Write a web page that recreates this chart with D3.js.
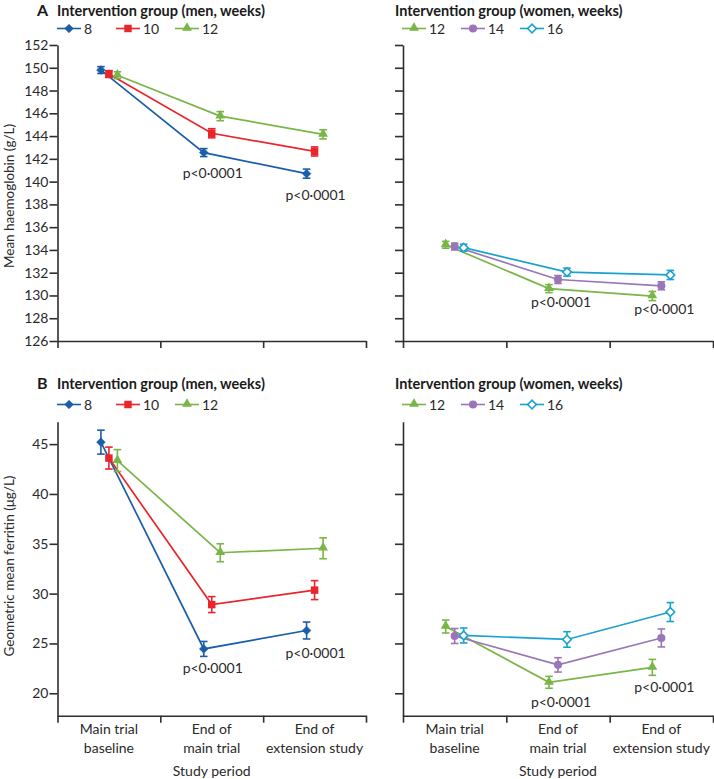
<!DOCTYPE html>
<html><head><meta charset="utf-8">
<script src="https://cdn.jsdelivr.net/npm/d3@7/dist/d3.min.js"></script>
<style>body{margin:0;background:#fff}svg{display:block}</style>
</head><body><svg id="c" width="714" height="779"></svg>
<script>
// ---------- DATA ----------
const categories = ["Main trial baseline", "End of main trial", "End of extension study"];
const categoryLines = [["Main trial", "baseline"], ["End of", "main trial"], ["End of", "extension study"]];
const menGroups = ["8", "10", "12"];
const womenGroups = ["12", "14", "16"];

// Mean haemoglobin (g/L)
const hbMen8 = [149.8, 142.55, 140.7];
const hbMen10 = [149.45, 144.25, 142.65];
const hbMen12 = [149.35, 145.75, 144.15];
const hbMen8Err = [0.3, 0.35, 0.4];
const hbMen10Err = [0.3, 0.4, 0.4];
const hbMen12Err = [0.3, 0.4, 0.4];
const hbWomen12 = [134.45, 130.6, 129.95];
const hbWomen14 = [134.3, 131.4, 130.85];
const hbWomen16 = [134.2, 132.05, 131.8];
const hbWomen12Err = [0.3, 0.35, 0.4];
const hbWomen14Err = [0.3, 0.35, 0.35];
const hbWomen16Err = [0.3, 0.35, 0.4];

// Geometric mean ferritin (µg/L)
const ferMen8 = [45.2, 24.45, 26.3];
const ferMen10 = [43.6, 28.9, 30.35];
const ferMen12 = [43.35, 34.1, 34.55];
const ferMen8Err = [1.2, 0.75, 0.85];
const ferMen10Err = [1.1, 0.8, 0.95];
const ferMen12Err = [1.1, 0.9, 1.05];
const ferWomen12 = [26.7, 21.1, 22.6];
const ferWomen14 = [25.75, 22.85, 25.55];
const ferWomen16 = [25.8, 25.4, 28.15];
const ferWomen12Err = [0.65, 0.6, 0.8];
const ferWomen14Err = [0.75, 0.72, 0.9];
const ferWomen16Err = [0.75, 0.78, 0.95];

const hbTicks = [126, 128, 130, 132, 134, 136, 138, 140, 142, 144, 146, 148, 150, 152];
const ferTicks = [20, 25, 30, 35, 40, 45];
const pLabel = "p<0·0001";

// ---------- STYLE / LAYOUT ----------
const FONT = "Lato, 'Liberation Sans', sans-serif";
const AX = "#2e2e2e";
const TXT = "#2a2a2a";
const C = { blue: "#1b5ea8", red: "#e8262b", green: "#7ab547", purple: "#9a76b8", cyan: "#1aa2cf" };
const men = [
  { name: menGroups[0], color: C.blue, sym: "diamond", dx: -8 },
  { name: menGroups[1], color: C.red, sym: "square", dx: 0 },
  { name: menGroups[2], color: C.green, sym: "triangle", dx: 8.5 }
];
const women = [
  { name: womenGroups[0], color: C.green, sym: "triangle", dx: -9 },
  { name: womenGroups[1], color: C.purple, sym: "circle", dx: 0 },
  { name: womenGroups[2], color: C.cyan, sym: "openDiamond", dx: 9 }
];
const cols = [{ x0: 57.5, x1: 366, titleX: 57, legX: 57, groups: men, title: "Intervention group (men, weeks)" },
              { x0: 403, x1: 713, titleX: 395, legX: 402, groups: women, title: "Intervention group (women, weeks)" }];
const rows = [
  { letter: "A", top: 45, bottom: 341, titleY: 15.5, legY: 28.5, domain: [126, 152], ticks: hbTicks,
    label: "Mean haemoglobin (g/L)", labelY: 196,
    data: [[hbMen8, hbMen10, hbMen12], [hbWomen12, hbWomen14, hbWomen16]],
    err: [[hbMen8Err, hbMen10Err, hbMen12Err], [hbWomen12Err, hbWomen14Err, hbWomen16Err]],
    pAnchor: [0, 0], pDy: [[25, 26], [18, 18]], catLabels: false },
  { letter: "B", top: 421.7, bottom: 715.7, titleY: 388.5, legY: 404.5, domain: [17.75, 47.25], ticks: ferTicks,
    label: "Geometric mean ferritin (μg/L)", labelY: 566,
    data: [[ferMen8, ferMen10, ferMen12], [ferWomen12, ferWomen14, ferWomen16]],
    err: [[ferMen8Err, ferMen10Err, ferMen12Err], [ferWomen12Err, ferWomen14Err, ferWomen16Err]],
    pAnchor: [0, 0], pDy: [[24, 28], [25, 25]], catLabels: true }
];

const svg = d3.select("#c").style("font-family", FONT);

function drawMarker(g, sym, color, x, y) {
  if (sym === "diamond" || sym === "openDiamond") {
    g.append("path").attr("d", d3.symbol(d3.symbolSquare, 38)())
      .attr("transform", `translate(${x},${y}) rotate(45)`)
      .attr("fill", sym === "openDiamond" ? "#fff" : color)
      .attr("stroke", color).attr("stroke-width", sym === "openDiamond" ? 1.6 : 0.5);
  } else if (sym === "square") {
    g.append("path").attr("d", d3.symbol(d3.symbolSquare, 56)())
      .attr("transform", `translate(${x},${y})`).attr("fill", color);
  } else if (sym === "triangle") {
    g.append("path").attr("d", d3.symbol(d3.symbolTriangle, 42)())
      .attr("transform", `translate(${x},${y - 0.5})`).attr("fill", color);
  } else if (sym === "circle") {
    g.append("path").attr("d", d3.symbol(d3.symbolCircle, 52)())
      .attr("transform", `translate(${x},${y})`).attr("fill", color);
  }
}

rows.forEach((row) => {
  const y = d3.scaleLinear().domain(row.domain).range([row.bottom, row.top]);
  cols.forEach((col, ci) => {
    const g = svg.append("g");
    const band = d3.scaleBand().domain(categories).range([col.x0, col.x1]).padding(0);
    const idx = d3.scaleLinear().domain([0, categories.length]).range([col.x0, col.x1]);

    // y axis
    const ya = g.append("g").attr("transform", `translate(${col.x0},0)`)
      .call(d3.axisLeft(y).tickValues(row.ticks).tickSize(8).tickSizeOuter(0)
        .tickFormat(ci === 0 ? d3.format("d") : ""));
    // x axis with boundary ticks
    const xa = g.append("g").attr("transform", `translate(0,${row.bottom})`)
      .call(d3.axisBottom(idx).tickValues(d3.range(categories.length + 1)).tickSize(7).tickSizeOuter(0).tickFormat(""));
    [ya, xa].forEach(a => {
      a.select(".domain").attr("stroke", AX).attr("stroke-width", 1.6);
      a.selectAll(".tick line").attr("stroke", AX).attr("stroke-width", 1.6);
      a.selectAll("text").attr("fill", TXT).style("font-size", "14px").style("font-family", FONT);
    });
    ya.selectAll(".tick text").attr("x", -9);

    if (row.catLabels) {
      categories.forEach((c, i) => {
        const t = g.append("text").attr("x", band(c) + band.bandwidth() / 2).attr("text-anchor", "middle")
          .attr("fill", TXT).style("font-size", "14px");
        categoryLines[i].forEach((ln, li) => t.append("tspan").attr("x", band(c) + band.bandwidth() / 2)
          .attr("y", row.bottom + 18 + li * 19).text(ln));
      });
      g.append("text").attr("x", (col.x0 + col.x1) / 2).attr("y", row.bottom + 60)
        .attr("text-anchor", "middle").attr("fill", TXT).style("font-size", "14px").text("Study period");
    }

    // y label
    if (ci === 0) {
      g.append("text").attr("transform", `translate(13.5,${row.labelY}) rotate(-90)`)
        .attr("text-anchor", "middle").attr("fill", TXT).style("font-size", "13.5px").text(row.label);
      g.append("text").attr("x", 37).attr("y", row.titleY).attr("fill", "#1a1a1a")
        .style("font-size", "16px").style("font-weight", "bold").text(row.letter);
    }
    // title
    g.append("text").attr("x", col.titleX).attr("y", row.titleY).attr("fill", "#1a1a1a")
      .style("font-size", "14.5px").style("font-weight", "bold").text(col.title);

    // legend
    col.groups.forEach((s, si) => {
      const lx = col.legX + si * 59;
      g.append("line").attr("x1", lx).attr("x2", lx + 24).attr("y1", row.legY).attr("y2", row.legY)
        .attr("stroke", s.color).attr("stroke-width", 1.6);
      drawMarker(g, s.sym, s.color, lx + 12, row.legY);
      g.append("text").attr("x", lx + 27).attr("y", row.legY + 5).attr("fill", TXT)
        .style("font-size", "14px").text(s.name);
    });

    // series
    col.groups.forEach((s, si) => {
      const vals = row.data[ci][si], errs = row.err[ci][si];
      const pts = categories.map((c, i) => ({ x: band(c) + band.bandwidth() / 2 + s.dx, v: vals[i], e: errs[i] }));
      g.append("path").datum(pts).attr("fill", "none").attr("stroke", s.color).attr("stroke-width", 1.7)
        .attr("d", d3.line().x(d => d.x).y(d => y(d.v)));
      pts.forEach(d => {
        const y1 = y(d.v + d.e), y2 = y(d.v - d.e);
        g.append("line").attr("x1", d.x).attr("x2", d.x).attr("y1", y1).attr("y2", y2)
          .attr("stroke", s.color).attr("stroke-width", 1.6);
        [y1, y2].forEach(yy => g.append("line").attr("x1", d.x - 3.8).attr("x2", d.x + 3.8)
          .attr("y1", yy).attr("y2", yy).attr("stroke", s.color).attr("stroke-width", 1.6));
      });
      pts.forEach(d => drawMarker(g, s.sym, s.color, d.x, y(d.v)));
    });

    // p-value labels under lowest series at categories 2 and 3
    const anchor = row.data[ci][row.pAnchor[ci]];
    [1, 2].forEach((i, k) => {
      const cx = band(categories[i]) + band.bandwidth() / 2;
      g.append("text").attr("x", cx + (ci === 0 ? 1 : 3)).attr("y", y(anchor[i]) + row.pDy[ci][k])
        .attr("text-anchor", "middle").attr("fill", TXT).style("font-size", "14px").text(pLabel);
    });
  });
});
</script></body></html>
